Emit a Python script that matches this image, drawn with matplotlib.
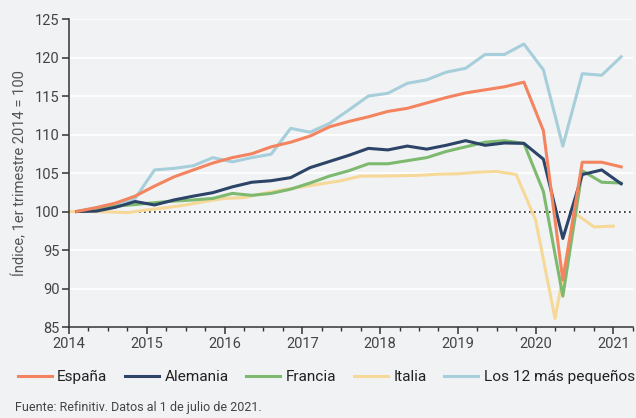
import numpy as np
import matplotlib
matplotlib.use('Agg')
import matplotlib.pyplot as plt

# quarterly index values, 1Q2014 = 100
espana = [100.0, 100.5, 101.1, 102.0, 103.3, 104.5, 105.4, 106.3, 107.0, 107.5,
          108.4, 109.0, 109.8, 111.0, 111.7, 112.3, 113.0, 113.4, 114.1, 114.8,
          115.4, 115.8, 116.2, 116.8, 110.5, 91.1, 106.4, 106.4, 105.8]
alemania = [100.0, 100.05, 100.55, 101.3, 100.85, 101.5, 102.0, 102.45, 103.2, 103.8,
            104.0, 104.4, 105.7, 106.5, 107.3, 108.2, 108.0, 108.5, 108.1, 108.6,
            109.2, 108.6, 108.9, 108.85, 106.8, 96.5, 104.8, 105.4, 103.6]
francia = [100.0, 100.4, 100.7, 100.9, 101.15, 101.35, 101.5, 101.7, 102.35, 102.1,
           102.35, 102.9, 103.7, 104.6, 105.3, 106.2, 106.2, 106.6, 107.0, 107.8,
           108.4, 109.0, 109.2, 108.85, 102.6, 89.0, 105.3, 103.8, 103.7]
italia = [100.0, 100.0, 99.95, 99.85, 100.2, 100.5, 100.85, 101.3, 101.7, 101.8,
          102.35, 102.8, 103.2, 103.6, 104.0, 104.6, 104.6, 104.65, 104.7, 104.85,
          104.9, 105.1, 105.2, 104.8, 98.9, 86.1, 99.8, 98.0, 98.1]
pequenos = [100.0, 100.5, 101.0, 101.7, 105.4, 105.6, 105.95, 107.0, 106.45, 107.0,
            107.45, 110.8, 110.3, 111.45, 113.2, 115.0, 115.35, 116.65, 117.1, 118.1,
            118.6, 120.4, 120.4, 121.75, 118.4, 108.5, 117.9, 117.7, 120.1]

quarters = np.arange(len(espana)) * 0.25
x_main = 2014.1 + quarters
x_ita = 2014.0 + quarters

years = list(range(2014, 2022))
yticks = list(range(85, 126, 5))

BG = '#f1f2f4'
TXT = '#444444'
plt.rcParams['font.family'] = ['Roboto', 'DejaVu Sans']

fig = plt.figure(figsize=(6.36, 4.18), dpi=100, facecolor=BG)
ax = fig.add_axes([0.1085, 0.2177, 0.8865, 0.7368], facecolor=BG)

for y in yticks:
    ax.axhline(y, color='white', lw=1.3, zorder=0)
ax.axhline(100, color='#222222', lw=1.2, ls=(0, (1, 2)), zorder=1.5)

lw = 2.2
ax.plot(x_ita, italia, color='#f6d998', lw=lw, label='Italia', zorder=2)
ax.plot(x_main, pequenos, color='#a6cfdb', lw=lw, label='Los 12 más pequeños', zorder=2.1)
ax.plot(x_main, francia, color='#7dba6f', lw=lw, label='Francia', zorder=2.2)
ax.plot(x_main, alemania, color='#2b4468', lw=lw, label='Alemania', zorder=2.3)
ax.plot(x_main, espana, color='#f4845f', lw=lw, label='España', zorder=2.4)

ax.set_xlim(2014, 2021.25)
ax.set_ylim(85, 125)
ax.set_xticks(years)
ax.set_xticks(np.arange(2014, 2021.26, 0.25), minor=True)
ax.set_yticks(yticks)

for side in ['top', 'right']:
    ax.spines[side].set_visible(False)
for side in ['left', 'bottom']:
    ax.spines[side].set_color('#333333')
    ax.spines[side].set_linewidth(1.1)
ax.tick_params(axis='both', which='major', direction='out', length=5, width=1.1,
               color='#333333', labelcolor=TXT, labelsize=10.5, pad=2)
ax.tick_params(axis='x', which='minor', direction='out', length=3, width=1.0,
               color='#333333')
ax.set_ylabel('Índice, 1er trimestre 2014 = 100', fontsize=10.5, color='#555555',
              labelpad=5)

handles, labels = ax.get_legend_handles_labels()
order = ['España', 'Alemania', 'Francia', 'Italia', 'Los 12 más pequeños']
hmap = dict(zip(labels, handles))
fig.legend([hmap[k] for k in order], order, loc='center', ncol=5,
           bbox_to_anchor=(0.513, 0.098), frameon=False, fontsize=11.1,
           handlelength=2.2, columnspacing=1.15, handletextpad=0.35,
           labelcolor='#222222')

fig.text(0.024, 0.024, 'Fuente: Refinitiv. Datos al 1 de julio de 2021.',
         fontsize=9, color=TXT, va='center')

fig.savefig('out.png', dpi=100, facecolor=BG)
